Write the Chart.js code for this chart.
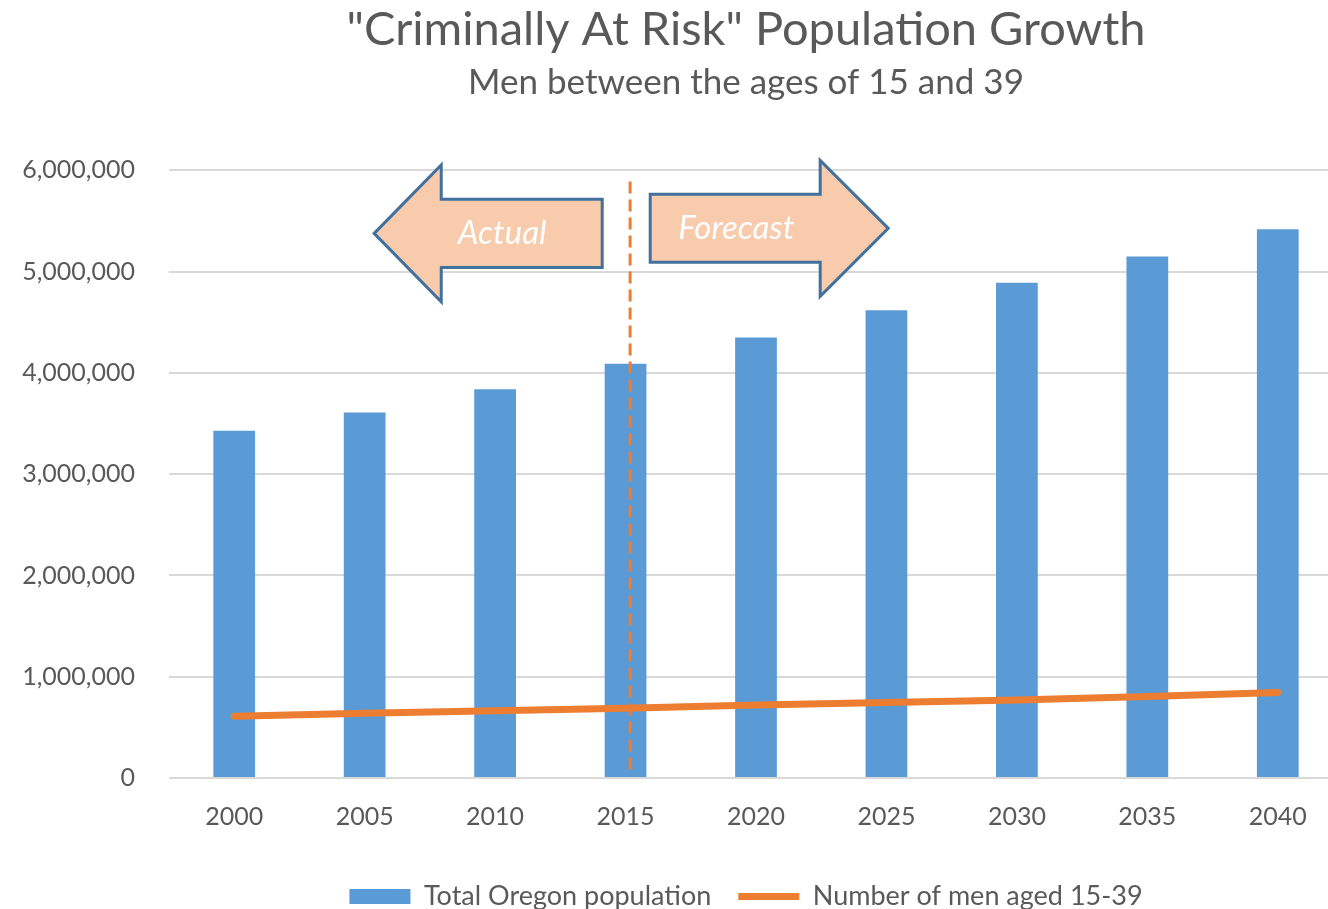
<!DOCTYPE html>
<html>
<head>
<meta charset="utf-8">
<title>"Criminally At Risk" Population Growth</title>
<script src="https://cdn.jsdelivr.net/npm/chart.js@4.4.1/dist/chart.umd.min.js"></script>
<style>
  html, body { margin: 0; padding: 0; background: #fff; overflow: hidden; }
  #wrap { width: 1328px; height: 909px; overflow: hidden; position: relative; }
  #chart { position: absolute; left: 0; top: 0; }
</style>
</head>
<body>
<div id="wrap"><canvas id="chart" width="1492" height="920"></canvas></div>
<script>
// Chart data
const years = ['2000', '2005', '2010', '2015', '2020', '2025', '2030', '2035', '2040'];
const totalPopulation = [3430000, 3610000, 3840000, 4090000, 4350000, 4620000, 4890000, 5150000, 5420000];
const menAged15to39 = [610000, 640000, 665000, 690000, 720000, 745000, 770000, 805000, 845000];
const yTicks = [0, 1000000, 2000000, 3000000, 4000000, 5000000, 6000000];

// Shared look
const FONT = 'Lato, "Open Sans", sans-serif';
const TEXT_GREY = '#595959';
const BLUE = '#5B9BD5';
const ORANGE = '#ED7D31';

// Annotation layout (category index on x, population on y)
const divider = { at: 3.035, from: 80000, to: 5890000 };
const arrows = [
  { text: 'Actual', tip: 1.073, neck: 1.587, tail: 2.821, center: 5378000, bodyHalf: 336000, headHalf: 676000, textAt: 2.054 },
  { text: 'Forecast', tip: 5.014, neck: 4.492, tail: 3.189, center: 5428000, bodyHalf: 336000, headHalf: 671000, textAt: 3.849 }
];

function drawArrow(ctx, x, y, a) {
  const tipX = x.getPixelForValue(a.tip);
  const neckX = x.getPixelForValue(a.neck);
  const tailX = x.getPixelForValue(a.tail);
  const cy = y.getPixelForValue(a.center);
  const bodyH = y.getPixelForValue(a.center - a.bodyHalf) - cy;
  const headH = y.getPixelForValue(a.center - a.headHalf) - cy;

  ctx.beginPath();
  ctx.moveTo(tipX, cy);
  ctx.lineTo(neckX, cy - headH);
  ctx.lineTo(neckX, cy - bodyH);
  ctx.lineTo(tailX, cy - bodyH);
  ctx.lineTo(tailX, cy + bodyH);
  ctx.lineTo(neckX, cy + bodyH);
  ctx.lineTo(neckX, cy + headH);
  ctx.closePath();
  ctx.fillStyle = '#F8CBAD';
  ctx.fill();
  ctx.lineWidth = 3;
  ctx.lineJoin = 'miter';
  ctx.strokeStyle = '#41719C';
  ctx.stroke();

  ctx.fillStyle = '#ffffff';
  ctx.font = 'italic 33px ' + FONT;
  ctx.textAlign = 'center';
  ctx.textBaseline = 'middle';
  ctx.fillText(a.text, x.getPixelForValue(a.textAt), cy);
}

// Dashed divider plus the Actual / Forecast arrows
const forecastMarks = {
  id: 'forecastMarks',
  afterDatasetsDraw(chart) {
    const { ctx, scales: { x, y } } = chart;
    ctx.save();

    const dx = x.getPixelForValue(divider.at);
    ctx.beginPath();
    ctx.setLineDash([12, 6]);
    ctx.moveTo(dx, y.getPixelForValue(divider.to));
    ctx.lineTo(dx, y.getPixelForValue(divider.from));
    ctx.strokeStyle = ORANGE;
    ctx.lineWidth = 3;
    ctx.stroke();
    ctx.setLineDash([]);

    arrows.forEach(a => drawArrow(ctx, x, y, a));
    ctx.restore();
  }
};

new Chart(document.getElementById('chart'), {
  type: 'bar',
  data: {
    labels: years,
    datasets: [
      {
        type: 'bar',
        label: 'Total Oregon population',
        data: totalPopulation,
        backgroundColor: BLUE,
        borderWidth: 0,
        categoryPercentage: 1,
        barPercentage: 0.32,
        pointStyle: 'rect',
        order: 1
      },
      {
        type: 'line',
        label: 'Number of men aged 15-39',
        data: menAged15to39,
        borderColor: ORANGE,
        backgroundColor: ORANGE,
        borderWidth: 7,
        borderCapStyle: 'round',
        borderJoinStyle: 'round',
        pointRadius: 0,
        pointStyle: 'line',
        tension: 0,
        order: 0
      }
    ]
  },
  options: {
    responsive: false,
    animation: false,
    layout: { padding: 0 },
    plugins: {
      title: {
        display: true,
        text: '"Criminally At Risk" Population Growth',
        color: TEXT_GREY,
        font: { family: FONT, size: 47, weight: 'normal' },
        padding: { top: 2, bottom: 0 }
      },
      subtitle: {
        display: true,
        text: 'Men between the ages of 15 and 39',
        color: TEXT_GREY,
        font: { family: FONT, size: 35, weight: 'normal' },
        padding: { top: 3, bottom: 67 }
      },
      legend: {
        position: 'bottom',
        labels: {
          usePointStyle: true,
          pointStyleWidth: 61,
          boxHeight: 15,
          padding: 27,
          color: TEXT_GREY,
          font: { family: FONT, size: 27 },
          sort: (a, b) => a.datasetIndex - b.datasetIndex
        }
      },
      tooltip: { enabled: false }
    },
    scales: {
      x: {
        grid: { display: false, drawTicks: false },
        border: { display: false },
        ticks: { color: TEXT_GREY, padding: 24, font: { family: FONT, size: 25 } }
      },
      y: {
        min: 0,
        max: 6000000,
        afterBuildTicks: s => { s.ticks = yTicks.map(v => ({ value: v })); },
        afterFit: s => { s.width = 169; },
        grid: { color: '#D9D9D9', lineWidth: 2, drawTicks: false },
        border: { display: false },
        ticks: {
          color: TEXT_GREY,
          padding: 34,
          font: { family: FONT, size: 25 },
          callback: v => v.toLocaleString('en-US')
        }
      },
      // empty right-hand axis that keeps the plot clear of the right margin
      spacer: {
        type: 'linear',
        position: 'right',
        grid: { display: false, drawTicks: false },
        border: { display: false },
        ticks: { display: false },
        afterFit: s => { s.width = 149; }
      }
    }
  },
  plugins: [forecastMarks]
});
</script>
</body>
</html>
